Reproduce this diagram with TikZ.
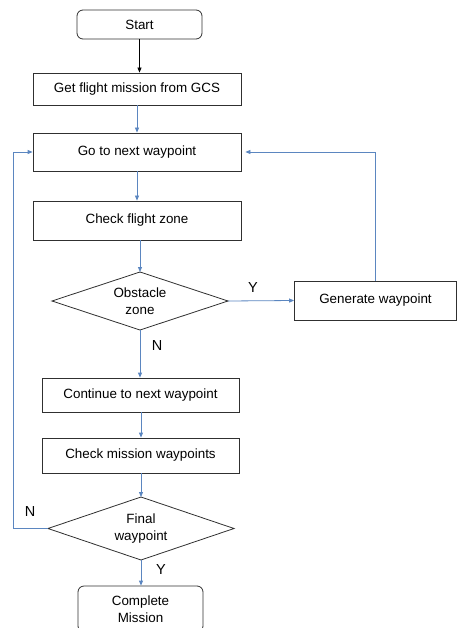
\documentclass[tikz,border=0pt]{standalone}
\usepackage{fontspec}
\setmainfont{Liberation Sans}
\usetikzlibrary{shapes.geometric,arrows.meta}
\definecolor{arrowblue}{HTML}{5B86C0}
\definecolor{boxline}{HTML}{303030}
\begin{document}
\begin{tikzpicture}[x=1pt,y=-1pt,
  font=\fontsize{13.4}{16.5}\selectfont,
  box/.style={draw=boxline,line width=0.8pt,minimum width=208pt,minimum height=#1,inner sep=0pt,align=center},
  box/.default=34pt,
  term/.style={draw=boxline,line width=0.8pt,rounded corners=6pt,minimum width=125pt,minimum height=#1,inner sep=0pt,align=center},
  flow/.style={draw=arrowblue,line width=0.8pt,-{Triangle[length=5pt,width=4pt]}},
  lbl/.style={font=\fontsize{14.5}{16}\selectfont}]
\useasboundingbox (0,0) rectangle (456,628);
\node[term=29pt] (start) at (139.5,24.5) {Start};
\node[box=32pt] (get) at (137,89) {Get flight mission from GCS};
\node[box=38pt] (go) at (137,152) {Go to next waypoint};
\node[box=39pt] (check) at (137,220.5) {Check flight zone};
\node[draw=boxline,line width=0.8pt,minimum width=162pt,minimum height=39pt,inner sep=0pt] (gen) at (375.5,300.5) {Generate waypoint};
\node[box=34pt,minimum width=197pt] (cont) at (140.5,395) {Continue to next waypoint};
\node[box=35pt,minimum width=197pt] (cmw) at (140.5,455.5) {Check mission waypoints};
\node[term=46pt] (complete) at (140.5,609) {Complete\\Mission};
% diamonds drawn as paths
\coordinate (obsT) at (140,272);
\coordinate (obsB) at (140,330);
\coordinate (obsL) at (52,301);
\coordinate (obsR) at (228,301);
\draw[boxline,line width=0.8pt] (obsT) -- (obsR) -- (obsB) -- (obsL) -- cycle;
\node[align=center] (obs) at (140,301) {Obstacle\\zone};
\coordinate (finT) at (141,497);
\coordinate (finB) at (141,560);
\coordinate (finL) at (48,528.5);
\coordinate (finR) at (234,528.5);
\draw[boxline,line width=0.8pt] (finT) -- (finR) -- (finB) -- (finL) -- cycle;
\node[align=center] (fin) at (141,528.5) {Final\\waypoint};
% connectors
\draw[line width=0.8pt,-{Triangle[length=5pt,width=4pt]}] (start.south) -- (get.north -| start.south);
\draw[flow] (get.south) -- (go.north);
\draw[flow] (go.south) -- (check.north);
\draw[flow] (check.south -| obsT) -- (obsT);
\draw[flow] (obsR) -- (gen.west);
\draw[flow] (gen.north) |- ([xshift=4pt]go.east);
\draw[flow] (obsB) -- (cont.north -| obsB);
\draw[flow] (cont.south -| finT) -- (cmw.north -| finT);
\draw[flow] (cmw.south -| finT) -- (finT);
\draw[flow] (finL) -- (13,528.5) |- (go.west);
\draw[flow] (finB) -- (complete.north -| finB);
% labels
\node[lbl] (ly1) at (253,288) {Y};
\node[lbl] (ln1) at (157,346) {N};
\node[lbl] (ln2) at (30,512) {N};
\node[lbl] (ly2) at (161,570) {Y};
\end{tikzpicture}
\end{document}
